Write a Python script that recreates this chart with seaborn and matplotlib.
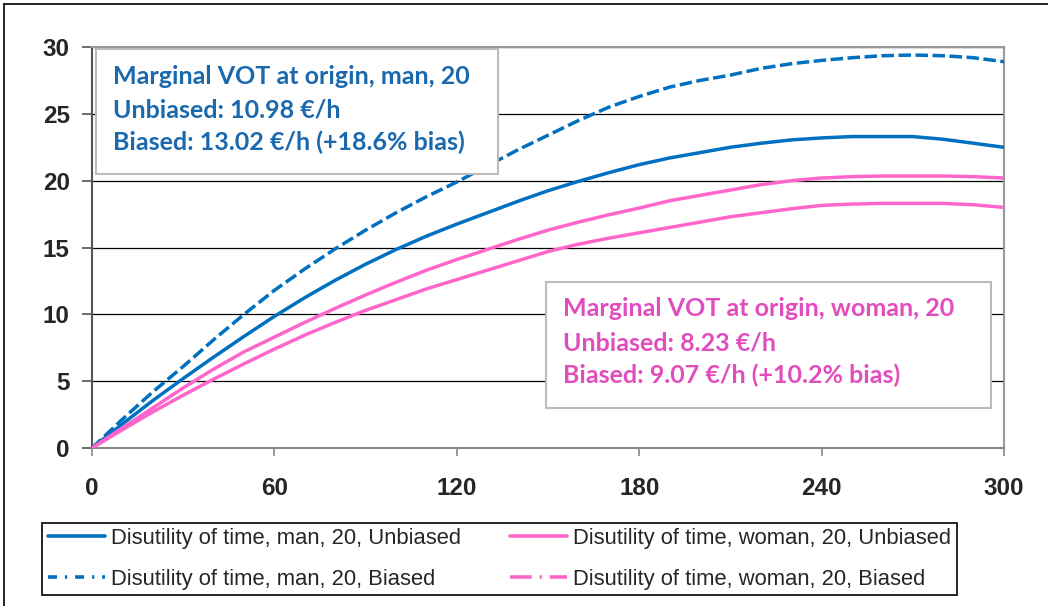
import pandas as pd
import matplotlib.pyplot as plt
import seaborn as sns
from matplotlib.lines import Line2D
from matplotlib.patches import Rectangle

# ----------------------------------------
# Data
# ----------------------------------------

minutes = list(range(0, 301, 10))

man_unbiased = [0, 1.8, 3.55, 5.2, 6.8, 8.35, 9.85, 11.25, 12.55, 13.75, 14.85,
                15.85, 16.75, 17.6, 18.45, 19.25, 19.95, 20.6, 21.2, 21.7, 22.1,
                22.5, 22.8, 23.05, 23.2, 23.3, 23.3, 23.3, 23.1, 22.8, 22.5]

man_biased = [0, 2.15, 4.2, 6.1, 8.1, 10.0, 11.8, 13.4, 14.9, 16.3, 17.6,
              18.8, 19.9, 21.1, 22.3, 23.4, 24.5, 25.5, 26.3, 27.0, 27.5,
              27.9, 28.4, 28.75, 29.0, 29.2, 29.35, 29.4, 29.35, 29.2, 28.9]

woman_unbiased = [0, 1.37, 2.7, 3.95, 5.15, 6.3, 7.4, 8.45, 9.4, 10.3, 11.1,
                  11.9, 12.6, 13.3, 14.0, 14.7, 15.25, 15.7, 16.1, 16.5, 16.9,
                  17.3, 17.6, 17.9, 18.15, 18.25, 18.3, 18.3, 18.3, 18.2, 18.0]

woman_biased = [0, 1.5, 3.0, 4.5, 5.9, 7.2, 8.3, 9.4, 10.45, 11.45, 12.4,
                13.3, 14.1, 14.85, 15.6, 16.3, 16.9, 17.45, 17.95, 18.5, 18.9,
                19.3, 19.7, 20.0, 20.2, 20.3, 20.35, 20.35, 20.35, 20.3, 20.2]

series_names = ["Disutility of time, man, 20, Unbiased",
                "Disutility of time, man, 20, Biased",
                "Disutility of time, woman, 20, Unbiased",
                "Disutility of time, woman, 20, Biased"]

x_ticks = [0, 60, 120, 180, 240, 300]
y_ticks = [0, 5, 10, 15, 20, 25, 30]

man_note = ["Marginal VOT at origin, man, 20",
            "Unbiased: 10.98 €/h",
            "Biased: 13.02 €/h (+18.6% bias)"]
woman_note = ["Marginal VOT at origin, woman, 20",
              "Unbiased: 8.23 €/h",
              "Biased: 9.07 €/h (+10.2% bias)"]

# ----------------------------------------
# Long-form table for seaborn
# ----------------------------------------

frames = []
for name, vals in zip(series_names, [man_unbiased, man_biased, woman_unbiased, woman_biased]):
    frames.append(pd.DataFrame({"minutes": minutes, "disutility": vals, "series": name}))
long_df = pd.concat(frames, ignore_index=True)

BLUE = "#0070C0"
PINK = "#FF66CC"
palette = {series_names[0]: BLUE, series_names[1]: BLUE,
           series_names[2]: PINK, series_names[3]: PINK}
dash_map = {series_names[0]: "", series_names[1]: (3.6, 1.3),
            series_names[2]: "", series_names[3]: ""}

# ----------------------------------------
# Plot
# ----------------------------------------

sns.set_style("white")
plt.rcParams["font.family"] = ["Liberation Sans", "DejaVu Sans"]

fig = plt.figure(figsize=(10.48, 6.06), dpi=100)
ax = fig.add_axes([0.0878, 0.2607, 0.8702, 0.6617])

sns.lineplot(data=long_df, x="minutes", y="disutility", hue="series", style="series",
             palette=palette, dashes=dash_map, linewidth=2.5, ax=ax, legend=False,
             zorder=3)

ax.set_xlim(0, 300)
ax.set_ylim(0, 30)
ax.set_xticks(x_ticks)
ax.set_yticks(y_ticks)
ax.set_xlabel("")
ax.set_ylabel("")
ax.yaxis.grid(True, color="black", linewidth=0.9)
ax.xaxis.grid(False)
ax.set_axisbelow(True)

for side in ["top", "right"]:
    ax.spines[side].set_color("#999999")
    ax.spines[side].set_linewidth(1.5)
ax.spines["left"].set_color("#555555")
ax.spines["left"].set_linewidth(1.5)
ax.spines["bottom"].set_color("#888888")
ax.spines["bottom"].set_linewidth(1.5)

ax.tick_params(axis="y", direction="out", length=7, width=1.2, color="#555555",
               labelsize=17.5, pad=9, left=True)
ax.tick_params(axis="x", direction="out", length=6, width=1.2, color="#888888",
               labelsize=17.5, pad=15, bottom=True)
for lab in ax.get_xticklabels() + ax.get_yticklabels():
    lab.set_fontweight("bold")

# annotation boxes
ax.add_patch(Rectangle((0.0044, 0.683), 0.4406, 0.312, transform=ax.transAxes,
                       facecolor="white", edgecolor="#BBBBBB", linewidth=1.5, zorder=5))
for txt, yb in zip(man_note, [0.9077, 0.8254, 0.7431]):
    ax.text(0.023, yb, txt, transform=ax.transAxes, va="baseline", ha="left",
            fontsize=18, fontweight="bold", color="#1A68AE",
            family=["Lato", "DejaVu Sans"], zorder=6)

ax.add_patch(Rectangle((0.498, 0.0998), 0.488, 0.3142, transform=ax.transAxes,
                       facecolor="white", edgecolor="#BBBBBB", linewidth=1.5, zorder=5))
for txt, yb in zip(woman_note, [0.3292, 0.2444, 0.1621]):
    ax.text(0.5164, yb, txt, transform=ax.transAxes, va="baseline", ha="left",
            fontsize=18, fontweight="bold", color="#E24DBE",
            family=["Lato", "DejaVu Sans"], zorder=6)

# legend with its own handles
handles = [Line2D([], [], color=BLUE, lw=2.6),
           Line2D([], [], color=BLUE, lw=2.6, dashes=(2.5, 2.2, 0.6, 2.2)),
           Line2D([], [], color=PINK, lw=2.6),
           Line2D([], [], color=PINK, lw=2.6, dashes=(6, 2.2, 0.6, 2.2))]
leg = fig.legend(handles, series_names, ncol=2, loc="center",
                 bbox_to_anchor=(0.0401, 0.005, 0.873, 0.145), mode="expand",
                 borderaxespad=0, fontsize=15.8, handlelength=2.6, handletextpad=0.3,
                 labelspacing=0.9, columnspacing=1.0, borderpad=0.25,
                 fancybox=False, framealpha=1, edgecolor="black")
leg.get_frame().set_linewidth(1.2)

# outer frame lines (top and left)
fig.add_artist(Line2D([0.004, 1.0], [0.993, 0.993], transform=fig.transFigure,
                      color="black", lw=1.2))
fig.add_artist(Line2D([0.004, 0.004], [0.0, 0.993], transform=fig.transFigure,
                      color="black", lw=1.2))

fig.savefig("out.png", dpi=100)
plt.close(fig)
